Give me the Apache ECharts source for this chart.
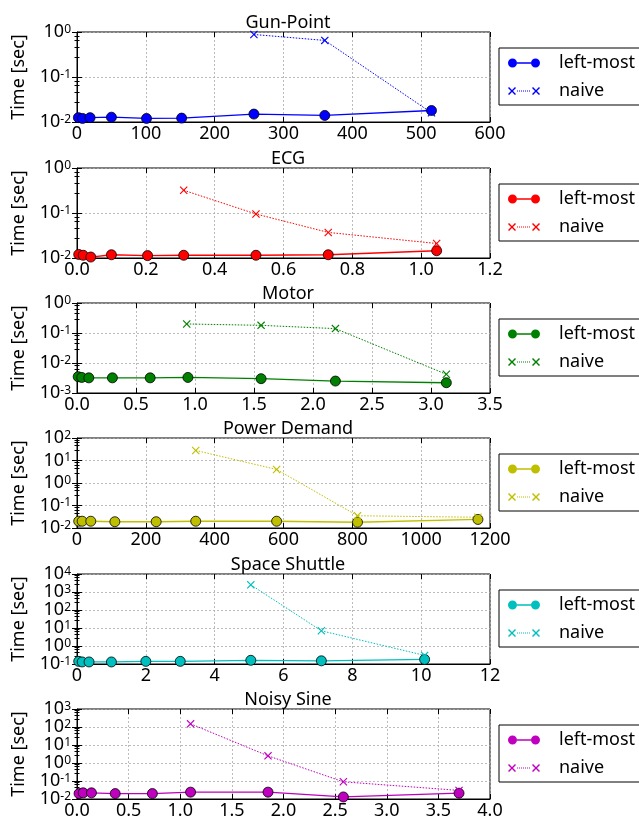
<!DOCTYPE html>
<html>
<head>
<meta charset="utf-8">
<script src="https://cdn.jsdelivr.net/npm/echarts@6/dist/echarts.min.js"></script>
<style>
  html, body { margin: 0; padding: 0; background: #fff; }
  #main { width: 639px; height: 821px; }
</style>
</head>
<body>
<div id="main"></div>
<script>
// Panel names and colours
var names = ['Gun-Point', 'ECG', 'Motor', 'Power Demand', 'Space Shuttle', 'Noisy Sine'];
var colors = ['#0000ff', '#ff0000', '#008000', '#bfbf00', '#00bfbf', '#bf00bf'];

// left-most x / y
var gunX = [2, 8, 19, 50, 101, 152, 257, 360, 515];
var gunY = [0.0125, 0.012, 0.0125, 0.0128, 0.012, 0.0122, 0.015, 0.014, 0.018];
var ecgX = [0.005, 0.018, 0.04, 0.1, 0.205, 0.31, 0.52, 0.73, 1.045];
var ecgY = [0.012, 0.0115, 0.0105, 0.0118, 0.0113, 0.0115, 0.0115, 0.0118, 0.0145];
var motorX = [0.01, 0.04, 0.1, 0.3, 0.62, 0.94, 1.56, 2.19, 3.13];
var motorY = [0.0035, 0.0033, 0.0032, 0.0032, 0.0032, 0.0033, 0.003, 0.0025, 0.0022];
var powerX = [5, 15, 40, 110, 230, 345, 580, 815, 1165];
var powerY = [0.02, 0.02, 0.02, 0.019, 0.019, 0.02, 0.02, 0.018, 0.024];
var shuttleX = [0.05, 0.15, 0.35, 1.0, 2.0, 3.0, 5.05, 7.1, 10.1];
var shuttleY = [0.14, 0.13, 0.13, 0.13, 0.14, 0.14, 0.16, 0.15, 0.18];
var sineX = [0.02, 0.06, 0.14, 0.37, 0.73, 1.1, 1.85, 2.58, 3.7];
var sineY = [0.02, 0.022, 0.022, 0.02, 0.02, 0.024, 0.024, 0.013, 0.021];

// naive x / y
var gunNaiveX = [257, 360, 515];
var gunNaiveY = [0.88, 0.65, 0.016];
var ecgNaiveX = [0.31, 0.52, 0.73, 1.045];
var ecgNaiveY = [0.32, 0.095, 0.037, 0.021];
var motorNaiveX = [0.93, 1.56, 2.19, 3.13];
var motorNaiveY = [0.2, 0.18, 0.14, 0.0042];
var powerNaiveX = [345, 580, 815, 1165];
var powerNaiveY = [28, 4, 0.035, 0.03];
var shuttleNaiveX = [5.05, 7.1, 10.1];
var shuttleNaiveY = [2500, 7, 0.3];
var sineNaiveX = [1.1, 1.85, 2.58, 3.7];
var sineNaiveY = [150, 2.5, 0.09, 0.03];

// axis ranges
var xMax = [600, 1.2, 3.5, 1200, 12, 4.0];
var xStep = [100, 0.2, 0.5, 200, 2, 0.5];
var xDecimals = [0, 1, 1, 0, 0, 1];
var yMin = [0.01, 0.01, 0.001, 0.01, 0.1, 0.01];
var yMax = [1, 1, 1, 100, 10000, 1000];

var leftX = [gunX, ecgX, motorX, powerX, shuttleX, sineX];
var leftY = [gunY, ecgY, motorY, powerY, shuttleY, sineY];
var naiveX = [gunNaiveX, ecgNaiveX, motorNaiveX, powerNaiveX, shuttleNaiveX, sineNaiveX];
var naiveY = [gunNaiveY, ecgNaiveY, motorNaiveY, powerNaiveY, shuttleNaiveY, sineNaiveY];

var tops = [32, 168, 303, 438, 574, 709];
var plotH = 90;
var FONT = 'Noto Sans';
var crossPath = 'path://M0,1L1,0L5,4L9,0L10,1L6,5L10,9L9,10L5,6L1,10L0,9L4,5Z';
// legend icons: marker - line - marker, like matplotlib
var leftIcon = 'path://M0,4.5a4.5,4.5 0 1,0 9,0a4.5,4.5 0 1,0 -9,0Z' +
  'M23,4.5a4.5,4.5 0 1,0 9,0a4.5,4.5 0 1,0 -9,0Z M9,3.8L23,3.8L23,5.2L9,5.2Z';
var naiveIcon = 'path://M0,1L1,0L4,3L7,0L8,1L5,4L8,7L7,8L4,5L1,8L0,7L3,4Z' +
  'M24,1L25,0L28,3L31,0L32,1L29,4L32,7L31,8L28,5L25,8L24,7L27,4Z' +
  'M9,3.5h1v1h-1Z M11,3.5h1v1h-1Z M13,3.5h1v1h-1Z M15,3.5h1v1h-1Z' +
  'M17,3.5h1v1h-1Z M19,3.5h1v1h-1Z M21,3.5h1v1h-1Z';

function zip(a, b) { return a.map(function (v, i) { return [v, b[i]]; }); }

var grids = [], xAxes = [], yAxes = [], series = [], titles = [], legends = [];
var gridLine = { show: true, lineStyle: { color: '#aaa', type: [2, 2], width: 0.8 } };
var tick = { show: true, inside: true, length: 5, lineStyle: { color: '#000' } };
var minor = { show: true, splitNumber: 5, length: 2.5, lineStyle: { color: '#000' } };

names.forEach(function (name, i) {
  grids.push({
    left: 77, width: 413, top: tops[i], height: plotH,
    show: true, borderColor: '#000', borderWidth: 1, backgroundColor: 'transparent'
  });
  titles.push({
    text: name, left: 283, top: tops[i] - 23, textAlign: 'center',
    textStyle: { fontFamily: FONT, fontSize: 18, fontWeight: 'normal', color: '#000' }
  });
  var dec = xDecimals[i];
  xAxes.push({
    type: 'value', gridIndex: i, min: 0, max: xMax[i], interval: xStep[i],
    axisLine: { show: true, lineStyle: { color: '#000' } },
    axisTick: tick,
    axisLabel: {
      fontFamily: FONT, fontSize: 18, color: '#000', margin: 3,
      formatter: function (v) { return v.toFixed(dec); }
    },
    splitLine: gridLine
  });
  xAxes.push({
    type: 'value', gridIndex: i, position: 'top', min: 0, max: xMax[i], interval: xStep[i],
    axisLine: { show: false }, axisTick: tick, axisLabel: { show: false },
    splitLine: { show: false }
  });
  yAxes.push({
    type: 'log', logBase: 10, gridIndex: i, min: yMin[i], max: yMax[i], interval: 1,
    name: 'Time [sec]', nameLocation: 'middle', nameGap: 49, nameRotate: 90,
    nameTextStyle: { fontFamily: FONT, fontSize: 18, color: '#000' },
    axisLine: { show: true, lineStyle: { color: '#000' } },
    axisTick: tick, minorTick: minor,
    axisLabel: {
      fontFamily: FONT, color: '#000', margin: 6, hideOverlap: false,
      lineHeight: 12,
      formatter: function (v) {
        var e = Math.round(Math.log10(v));
        return '{b|10}{s|' + e + '}';
      },
      rich: {
        b: { fontFamily: FONT, fontSize: 18, lineHeight: 12, color: '#000' },
        s: { fontFamily: FONT, fontSize: 12, lineHeight: 8, color: '#000', padding: [0, 0, 5, 0] }
      }
    },
    splitLine: gridLine
  });
  yAxes.push({
    type: 'log', logBase: 10, gridIndex: i, position: 'right', min: yMin[i], max: yMax[i], interval: 1,
    axisLine: { show: false }, axisTick: tick, minorTick: minor,
    axisLabel: { show: false }, splitLine: { show: false }
  });
  series.push({
    name: 'left-most#' + i, type: 'line', xAxisIndex: 2 * i, yAxisIndex: 2 * i,
    data: zip(leftX[i], leftY[i]),
    symbol: 'circle', symbolSize: 10,
    itemStyle: { color: colors[i], borderColor: '#000', borderWidth: 0.8 },
    lineStyle: { color: colors[i], width: 1.3 }
  });
  series.push({
    name: 'naive#' + i, type: 'line', xAxisIndex: 2 * i, yAxisIndex: 2 * i,
    data: zip(naiveX[i], naiveY[i]),
    symbol: crossPath, symbolSize: 8,
    itemStyle: { color: colors[i] },
    lineStyle: { color: colors[i], width: 1, type: [1.5, 1.5] }
  });
  legends.push({
    left: 499, top: tops[i] + 16,
    orient: 'vertical', padding: [5, 40, 4, 9], itemGap: 8,
    borderColor: '#000', borderWidth: 1, backgroundColor: '#fff',
    itemWidth: 32, itemHeight: 9,
    itemStyle: { borderWidth: 0 },
    data: [
      { name: 'left-most#' + i, icon: leftIcon },
      { name: 'naive#' + i, icon: naiveIcon, itemHeight: 8 }
    ],
    formatter: function (n) { return n.split('#')[0]; },
    textStyle: { fontFamily: FONT, fontSize: 18, color: '#000', padding: [0, 0, 0, 14], lineHeight: 20 },
    selectedMode: false
  });
});

var chart = echarts.init(document.getElementById('main'), null, { renderer: 'canvas' });
chart.setOption({
  animation: false,
  backgroundColor: '#fff',
  title: titles,
  grid: grids,
  xAxis: xAxes,
  yAxis: yAxes,
  legend: legends,
  series: series
});
</script>
</body>
</html>
